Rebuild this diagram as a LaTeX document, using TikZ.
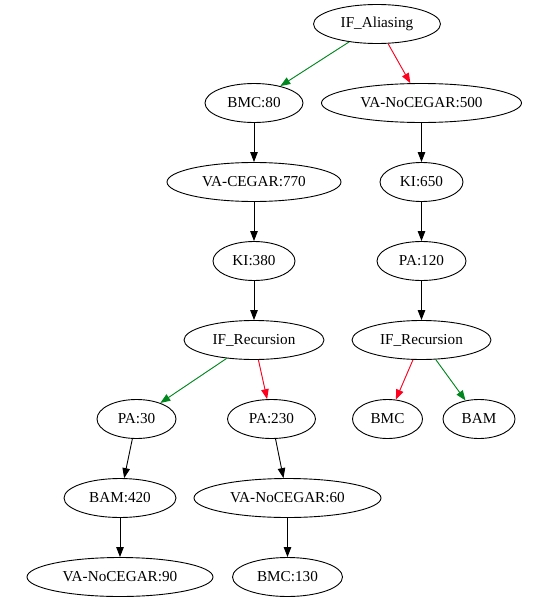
\documentclass[tikz,border=0pt]{standalone}
\usepackage{fontspec}
\setmainfont{Liberation Serif}
\usetikzlibrary{shapes.geometric,arrows.meta}
\definecolor{gvgreen}{RGB}{0,135,30}
\definecolor{gvred}{RGB}{255,0,30}
\tikzset{
  gv/.style={draw=black, line width=0.9pt, ellipse, inner sep=0pt,
    minimum height=39pt, font=\fontsize{15.2pt}{18pt}\selectfont},
  edge/.style={draw=black, line width=0.9pt, -{Triangle[length=10pt,width=7.5pt]}},
  gedge/.style={edge, draw=gvgreen, fill=gvgreen},
  redge/.style={edge, draw=gvred, fill=gvred}
}
\begin{document}
\begin{tikzpicture}[x=1pt,y=-1pt]
\useasboundingbox (0,0) rectangle (533,597);
% rows: 24 103 182 261 340 419 498 577
\node[gv, minimum width=127pt] (ia) at (377,24) {IF\_Aliasing};
\node[gv, minimum width=98pt] (b80) at (254,103) {BMC:80};
\node[gv, minimum width=174pt] (vc770) at (254,182) {VA-CEGAR:770};
\node[gv, minimum width=82pt] (ki380) at (254,261) {KI:380};
\node[gv, minimum width=140pt] (ifr1) at (254,340) {IF\_Recursion};
\node[gv, minimum width=79pt] (pa30) at (136.5,419) {PA:30};
\node[gv, minimum width=88pt] (pa230) at (271.5,419) {PA:230};
\node[gv, minimum width=112pt] (bam420) at (120,498) {BAM:420};
\node[gv, minimum width=187pt] (vn60) at (287.5,498) {VA-NoCEGAR:60};
\node[gv, minimum width=186pt] (vn90) at (120,577) {VA-NoCEGAR:90};
\node[gv, minimum width=110pt] (bmc130) at (287.5,577) {BMC:130};
\node[gv, minimum width=200pt] (vn500) at (421.5,103) {VA-NoCEGAR:500};
\node[gv, minimum width=83pt] (ki650) at (421.5,182) {KI:650};
\node[gv, minimum width=89pt] (pa120) at (421.5,261) {PA:120};
\node[gv, minimum width=139pt] (ifr2) at (421.5,340) {IF\_Recursion};
\node[gv, minimum width=70pt] (bmc) at (387.5,419) {BMC};
\node[gv, minimum width=72pt] (bam) at (479,419) {BAM};

\draw[gedge] (ia) -- (b80);
\draw[redge] (ia) -- (vn500);
\draw[edge] (b80) -- (vc770);
\draw[edge] (vc770) -- (ki380);
\draw[edge] (ki380) -- (ifr1);
\draw[gedge] (ifr1) -- (pa30);
\draw[redge] (ifr1) -- (pa230);
\draw[edge] (pa30) -- (bam420);
\draw[edge] (bam420) -- (vn90);
\draw[edge] (pa230) -- (vn60);
\draw[edge] (vn60) -- (bmc130);
\draw[edge] (vn500) -- (ki650);
\draw[edge] (ki650) -- (pa120);
\draw[edge] (pa120) -- (ifr2);
\draw[redge] (ifr2) -- (bmc);
\draw[gedge] (ifr2) -- (bam);
\end{tikzpicture}
\end{document}
